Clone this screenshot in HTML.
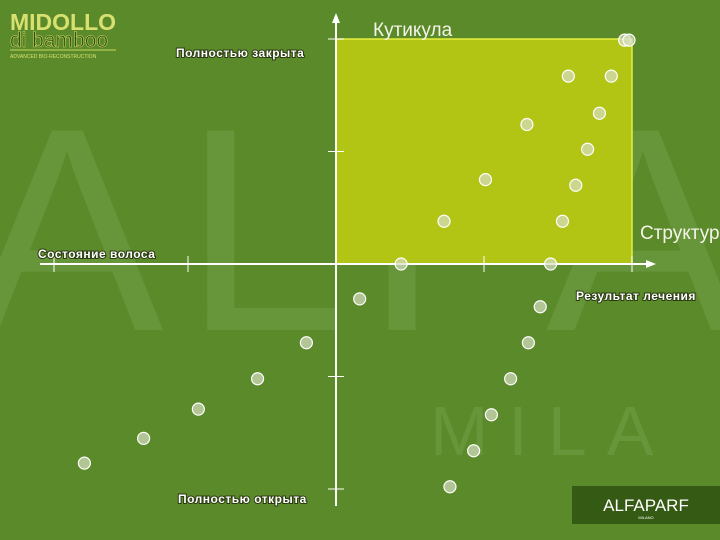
<!DOCTYPE html>
<html><head><meta charset="utf-8"><style>
html,body{margin:0;padding:0;background:#5b8a2a;}
svg{display:block}
.lbl{font-family:"Liberation Sans",sans-serif;font-size:12px;font-weight:bold;fill:#fff;letter-spacing:0.5px}
</style></head><body>
<svg id="chart" width="720" height="540">
<rect width="720" height="540" fill="#5b8a2a"/>
<text x="-30" y="330" font-family="Liberation Sans,sans-serif" font-size="290" fill="#66953a" letter-spacing="20">ALFA</text>
<text x="430" y="455" font-family="Liberation Sans,sans-serif" font-size="70" fill="#66953a" letter-spacing="20">MILA</text>
<g id="plot"></g>
<g>
<text x="10" y="30" font-family="Liberation Sans,sans-serif" font-size="23" font-weight="bold" fill="#d8e070">MIDOLLO</text>
<text x="10" y="47" font-family="Liberation Sans,sans-serif" font-size="21" fill="#2f4a14" stroke="#c8d860" stroke-width="0.6">di bamboo</text>
<line x1="10" y1="50" x2="116" y2="50" stroke="#c8d860" stroke-width="1"/>
<text x="10" y="58" font-family="Liberation Sans,sans-serif" font-size="5" fill="#d8e070">ADVANCED BIO-RECONSTRUCTION</text>
</g>
<g>
<rect x="572" y="486" width="148" height="38" fill="#355a14"/>
<text x="646" y="511" text-anchor="middle" font-family="Liberation Sans,sans-serif" font-size="17" fill="#fff">ALFAPARF</text>
<text x="646" y="519" text-anchor="middle" font-family="Liberation Sans,sans-serif" font-size="4" fill="#fff">MILANO</text>
</g>
</svg>
<script>
const xVals=[1.95,1.98,1.57,1.86,1.78,1.29,1.70,1.01,1.62,0.73,1.53,0.44,1.45,0.16,1.38,-0.20,1.30,-0.53,1.18,-0.93,1.05,-1.30,0.93,-1.70,0.77];
const yVals=[1.99,1.99,1.67,1.67,1.34,1.24,1.02,0.75,0.70,0.38,0.38,0,0,-0.31,-0.38,-0.70,-0.70,-1.02,-1.02,-1.29,-1.34,-1.55,-1.66,-1.77,-1.98];
const xTicks=[-1,0,1,2];
const yTicks=[-2,-1,1,2];
const X0=336,Y0=264,XS=148,YS=112.5;
const sx=v=>X0+v*XS, sy=v=>Y0-v*YS;
const NS="http://www.w3.org/2000/svg";
const g=document.getElementById('plot');
function mk(t,a,p){const e=document.createElementNS(NS,t);for(const k in a)e.setAttribute(k,a[k]);(p||g).appendChild(e);return e;}
let r=mk('rect',{x:sx(0),y:sy(2),width:sx(2)-sx(0),height:sy(0)-sy(2),fill:'#b2c414',stroke:'#e4f040','stroke-width':1.5});


let xa=mk('line',{x1:40,y1:Y0,x2:650,y2:Y0,stroke:'#fff','stroke-width':2});


mk('path',{d:`M656 ${Y0} L646 ${Y0-4} L646 ${Y0+4}Z`,fill:'#fff'});
let ya=mk('line',{x1:X0,y1:22,x2:X0,y2:506,stroke:'#fff','stroke-width':2});


mk('path',{d:`M${X0} 13 L${X0-4} 23 L${X0+4} 23Z`,fill:'#fff'});
mk('line',{x1:54,y1:Y0-8,x2:54,y2:Y0+8,stroke:'#fff'});
xTicks.forEach(t=>{const l=mk('line',{x1:sx(t),y1:Y0-8,x2:sx(t),y2:Y0+8,stroke:'#fff'});

});
yTicks.forEach(t=>{const l=mk('line',{x1:X0-8,y1:sy(t),x2:X0+8,y2:sy(t),stroke:'#fff'});

});
xVals.forEach((v,i)=>{const c=mk('circle',{cx:sx(v),cy:sy(yVals[i]),r:6,fill:'rgba(215,222,195,0.7)',stroke:'#fff','stroke-width':1.2});

});
function lab(x,y,s,name,big){const t=mk('text',{x:x,y:y,class:big?'':'lbl'});t.textContent=s;
if(big){t.setAttribute('font-family','Liberation Sans,sans-serif');t.setAttribute('font-size','19');t.setAttribute('fill','#f4f4e8');}
else t.setAttribute('style','paint-order:stroke;stroke:#2a3a10;stroke-width:2px');

}
lab(373,36,'Кутикула','y-axis-title-top',1);
lab(640,239,'Структура','x-axis-title-right',1);
lab(176,57,'Полностью закрыта','y-label-top');
lab(178,503,'Полностью открыта','y-label-bottom');
lab(38,258,'Состояние волоса','x-label-left');
lab(576,300,'Результат лечения','x-label-right');
</script>
</body></html>
